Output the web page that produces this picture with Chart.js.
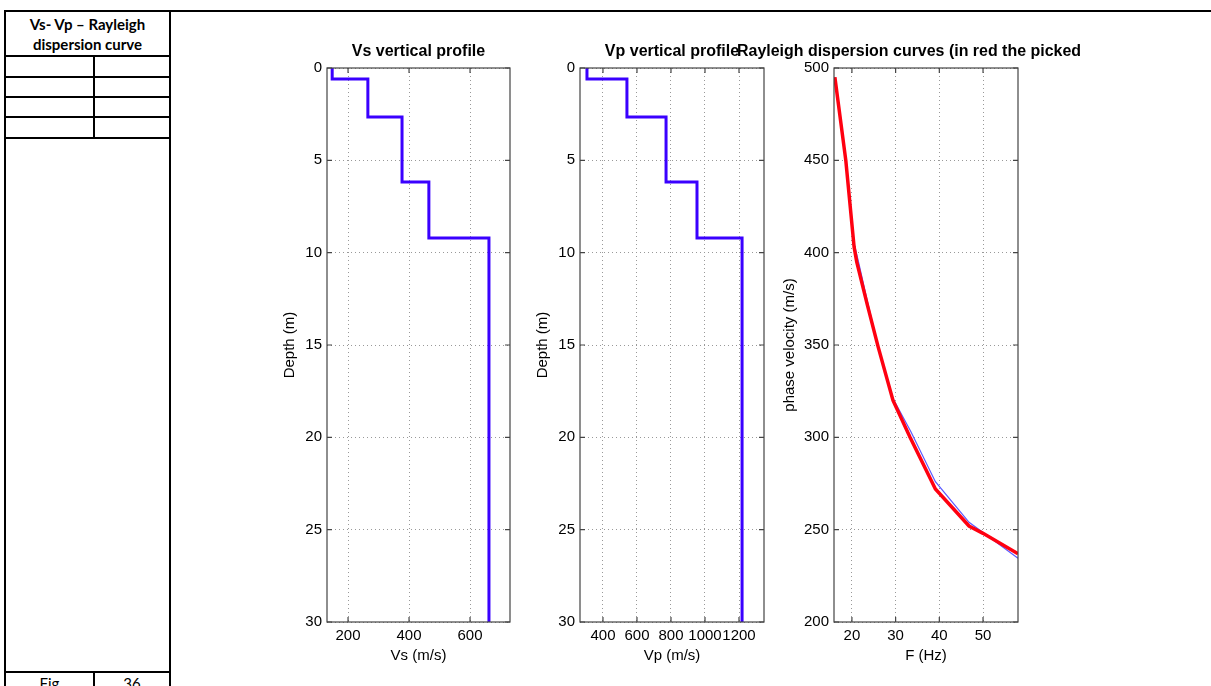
<!DOCTYPE html>
<html>
<head>
<meta charset="utf-8">
<script src="https://cdn.jsdelivr.net/npm/chart.js@4"></script>
<style>
  html, body { margin: 0; padding: 0; background: #fff; }
  body { width: 1211px; height: 686px; position: relative; overflow: hidden; }
  .ln { position: absolute; background: #000; }
  .txt { position: absolute; font-family: Lato, "Open Sans", sans-serif; color: #000; text-align: center; }
  canvas { position: absolute; }
</style>
</head>
<body>
<!-- left side table of the report page -->
<div class="ln" style="left:4px;top:10px;width:1207px;height:2px"></div>
<div class="ln" style="left:4px;top:10px;width:2px;height:676px"></div>
<div class="ln" style="left:169px;top:10px;width:2px;height:676px"></div>
<div class="ln" style="left:4px;top:55px;width:167px;height:2px"></div>
<div class="ln" style="left:4px;top:76px;width:167px;height:2px"></div>
<div class="ln" style="left:4px;top:96px;width:167px;height:2px"></div>
<div class="ln" style="left:4px;top:116px;width:167px;height:2px"></div>
<div class="ln" style="left:4px;top:137px;width:167px;height:2px"></div>
<div class="ln" style="left:93px;top:55px;width:2px;height:83px"></div>
<div class="ln" style="left:4px;top:671px;width:167px;height:2px"></div>
<div class="ln" style="left:93px;top:671px;width:2px;height:15px"></div>
<div class="txt" style="left:6px;top:14px;width:163px;font-weight:bold;font-size:15px;line-height:20px">Vs- Vp – Rayleigh<br>dispersion curve</div>
<div class="txt" style="left:6px;top:674px;width:87px;font-size:15px;line-height:18px">Fig</div>
<div class="txt" style="left:95px;top:674px;width:74px;font-size:15px;line-height:18px">36</div>

<canvas id="vsChart" style="left:281px;top:42px" width="239" height="630"></canvas>
<canvas id="vpChart" style="left:534px;top:42px" width="240" height="630"></canvas>
<canvas id="dispChart" style="left:737px;top:42px" width="344" height="630"></canvas>

<script>
// layer model: velocities per layer and depths of layer interfaces (m)
const vsLayers = [148, 265, 377, 465, 662];
const vpLayers = [306, 541, 771, 953, 1218];
const interfaces = [0.6, 2.65, 6.17, 9.2];
const maxDepth = 30;

const depthTicks = [0, 5, 10, 15, 20, 25, 30];
const vsTicks = [200, 400, 600];
const vpTicks = [400, 600, 800, 1000, 1200];

// dispersion curves
const pickedFreq = [16.1, 18.6, 20.5, 21.1, 23.5, 26.0, 29.4, 33.3, 39.1, 46.8, 50.0, 58.0];
const pickedVel = [495, 450, 403, 395, 372, 349, 320, 300, 272, 252, 248, 237];
const modelFreq = [16.1, 18.6, 20.5, 21.6, 23.5, 26.0, 29.4, 33.5, 39.1, 46.8, 50.0, 58.0];
const modelVel = [495, 450, 405, 394, 374, 349, 321, 303, 276, 254, 248.5, 234.5];
const freqTicks = [20, 30, 40, 50];
const velTicks = [200, 250, 300, 350, 400, 450, 500];

Chart.defaults.font.family = "'Liberation Sans', Arial, sans-serif";
Chart.defaults.color = "#000";

function stairs(vel) {
  const tops = [0].concat(interfaces);
  const pts = [];
  vel.forEach((v, i) => {
    pts.push({ x: v, y: tops[i] });
    pts.push({ x: v, y: i < interfaces.length ? interfaces[i] : maxDepth });
  });
  return pts;
}

function pairs(xs, ys) {
  return xs.map((x, i) => ({ x: x, y: ys[i] }));
}

// matlab style box with inward tick marks
const boxPlugin = {
  id: "box",
  afterDraw(chart) {
    const { ctx, chartArea: a, scales } = chart;
    ctx.save();
    ctx.strokeStyle = "#444";
    ctx.lineWidth = 1.2;
    ctx.strokeRect(a.left, a.top, a.right - a.left, a.bottom - a.top);
    ctx.beginPath();
    scales.x.ticks.forEach((t) => {
      const px = scales.x.getPixelForValue(t.value);
      ctx.moveTo(px, a.bottom); ctx.lineTo(px, a.bottom - 5);
      ctx.moveTo(px, a.top); ctx.lineTo(px, a.top + 5);
    });
    scales.y.ticks.forEach((t) => {
      const py = scales.y.getPixelForValue(t.value);
      ctx.moveTo(a.left, py); ctx.lineTo(a.left + 5, py);
      ctx.moveTo(a.right, py); ctx.lineTo(a.right - 5, py);
    });
    ctx.stroke();
    ctx.restore();
  }
};

function axis(opts) {
  return {
    type: "linear",
    min: opts.min,
    max: opts.max,
    reverse: !!opts.reverse,
    afterBuildTicks: (s) => { s.ticks = opts.ticks.map((v) => ({ value: v })); },
    afterFit: (s) => { if (opts.width) s.width = opts.width; if (opts.height) s.height = opts.height; },
    grid: { color: "#999", lineWidth: 1, drawTicks: false },
    border: { display: false, dash: [1, 3] },
    ticks: { autoSkip: false, maxRotation: 0, padding: 5, font: { size: 15 }, color: "#000", callback: (v) => String(v) },
    title: { display: true, text: opts.title, font: { size: 15 }, color: "#000", padding: opts.titlePad || 0 }
  };
}

function makeChart(id, datasets, xOpts, yOpts, title, extra) {
  const scales = { x: axis(xOpts), y: axis(yOpts) };
  if (extra.rightGap) {
    // empty right hand box so the full-width title keeps its room
    scales.gap = {
      type: "linear", position: "right", display: true,
      grid: { display: false }, border: { display: false }, ticks: { display: false },
      afterFit: (s) => { s.width = extra.rightGap; }
    };
  }
  return new Chart(document.getElementById(id), {
    type: "line",
    data: { datasets: datasets },
    options: {
      responsive: false,
      animation: false,
      layout: { padding: extra.padding || 0 },
      elements: { point: { radius: 0 }, line: { tension: 0 } },
      plugins: {
        legend: { display: false },
        tooltip: { enabled: false },
        title: {
          display: true,
          text: title,
          fullSize: extra.fullTitle,
          color: "#000",
          font: { size: 16, weight: "bold" },
          padding: { top: 0, bottom: 6.8 }
        }
      },
      scales: scales
    },
    plugins: [boxPlugin]
  });
}

const blue = "#3a00ff";

makeChart("vsChart",
  [{ data: stairs(vsLayers), borderColor: blue, borderWidth: 3 }],
  { min: 131, max: 731, ticks: vsTicks, title: "Vs (m/s)", height: 50, titlePad: { bottom: 7 } },
  { min: 0, max: maxDepth, reverse: true, ticks: depthTicks, title: "Depth (m)", width: 46 },
  "Vs vertical profile",
  { padding: { right: 10 }, fullTitle: false });

makeChart("vpChart",
  [{ data: stairs(vpLayers), borderColor: blue, borderWidth: 3 }],
  { min: 265, max: 1347, ticks: vpTicks, title: "Vp (m/s)", height: 50, titlePad: { bottom: 7 } },
  { min: 0, max: maxDepth, reverse: true, ticks: depthTicks, title: "Depth (m)", width: 46 },
  "Vp vertical profile",
  { padding: { right: 10 }, fullTitle: false });

makeChart("dispChart",
  [
    { data: pairs(modelFreq, modelVel), borderColor: "#5a5aff", borderWidth: 1.2, order: 2 },
    { data: pairs(pickedFreq, pickedVel), borderColor: "#ff0010", borderWidth: 3.5, order: 1 }
  ],
  { min: 15.9, max: 58, ticks: freqTicks, title: "F (Hz)", height: 50, titlePad: { bottom: 7 } },
  { min: 200, max: 500, ticks: velTicks, title: "phase velocity (m/s)", width: 97, titlePad: { top: 44 } },
  "Rayleigh dispersion curves (in red the picked",
  { fullTitle: true, rightGap: 63 });
</script>
</body>
</html>
